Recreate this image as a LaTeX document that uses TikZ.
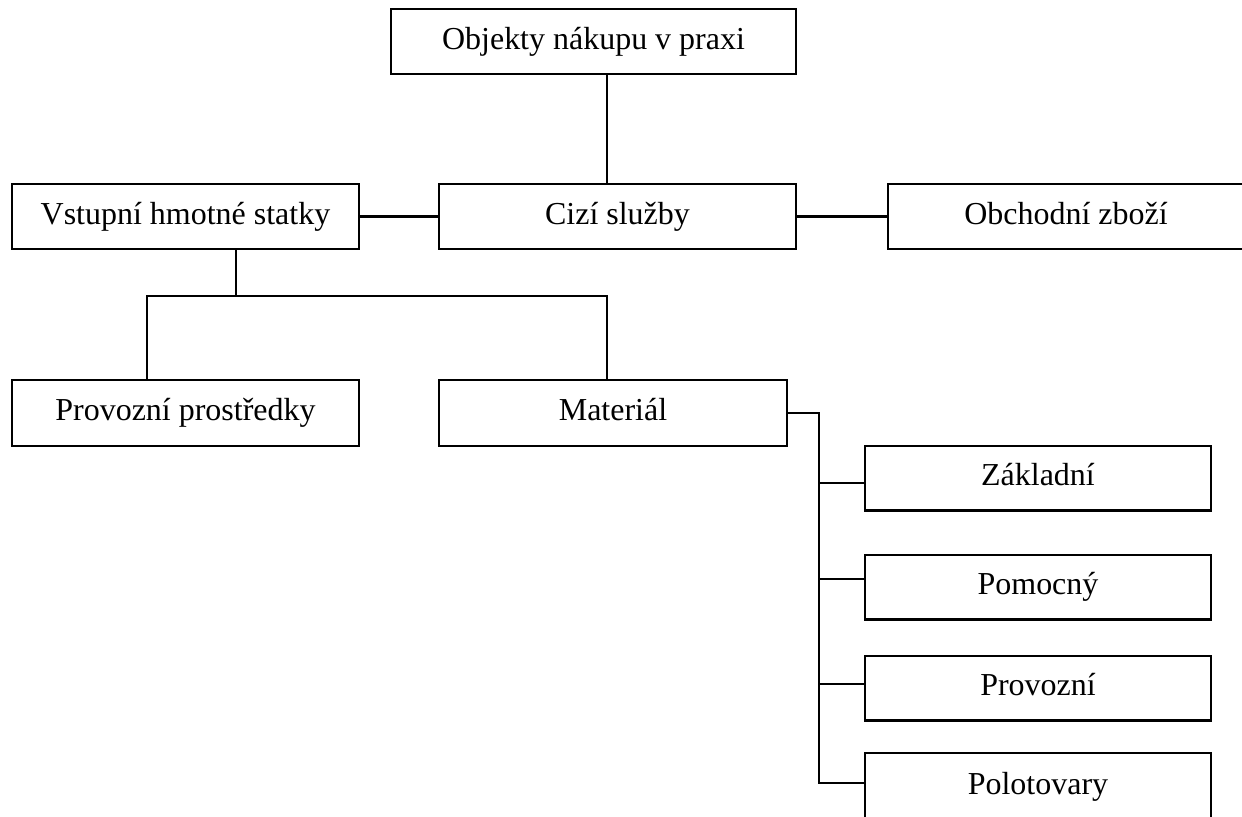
\documentclass[tikz,border=0pt]{standalone}
\usepackage{fontspec}
\setmainfont{Liberation Serif}

\begin{document}
\begin{tikzpicture}[x=0.02cm, y=-0.02cm, line width=1.15pt,
        box/.style={draw, line width=1.15pt, inner sep=0pt, minimum height=1.3cm,
            text height=12pt, text depth=3.4pt,
            font=\fontsize{18.2}{22}\selectfont}]
        \useasboundingbox (0,0) rectangle (1242,816);
        \clip (0,0) rectangle (1242,816);

        % upper levels
        \node[box, minimum width=8.1cm] (top) at (593.5,41.5) {Objekty nákupu v praxi};
        \node[box, minimum width=6.94cm] (vstup) at (185.5,216.5) {Vstupní hmotné statky};
        \node[box, minimum width=7.14cm] (cizi) at (617.5,216.5) {Cizí služby};
        \node[box, minimum width=7.12cm] (obch) at (1066,216.5) {Obchodní zboží};

        \node[box, minimum width=6.94cm, minimum height=1.32cm] (prov) at (185.5,413) {Provozní prostředky};
        \node[box, minimum width=6.96cm, minimum height=1.32cm] (mat) at (613,413) {Materiál};

        % kinds of material
        \node[box, minimum width=6.92cm] (zakl) at (1038,478) {Základní};
        \node[box, minimum width=6.92cm] (pomo) at (1038,587) {Pomocný};
        \node[box, minimum width=6.92cm] (provo) at (1038,688) {Provozní};
        \node[box, minimum width=6.92cm, minimum height=1.34cm] (polo) at (1038,786.5) {Polotovary};

        \coordinate (trunk) at (607,0);
        \coordinate (stem) at (236,296);
        \coordinate (forkl) at (147,296);
        \coordinate (forkr) at (607,296);
        \coordinate (spine) at (819,783);

        \draw (top.south -| trunk) -- (cizi.north -| trunk);
        \draw (vstup.east) -- (cizi.west);
        \draw (cizi.east) -- (obch.west);

        \draw (vstup.south -| stem) -- (stem);
        \draw (prov.north -| forkl) -- (forkl) -- (forkr) -- (mat.north -| forkr);

        \draw (mat.east) -| (spine) -- (spine -| polo.west);
        \foreach \n/\y in {zakl/483,pomo/579,provo/684}
            \draw (819,\y) -- (\n.west |- 0,\y);
    \end{tikzpicture}
\end{document}
